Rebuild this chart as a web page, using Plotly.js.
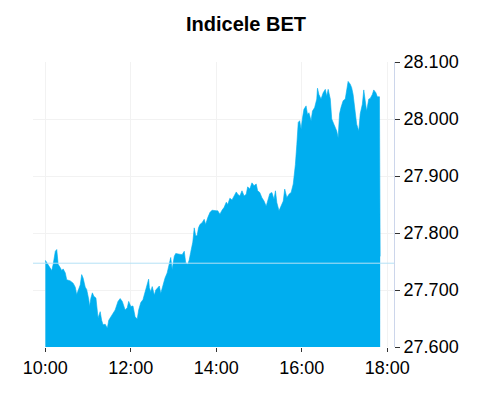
<!DOCTYPE html>
<html>
<head>
<meta charset="utf-8">
<script src="https://cdn.plot.ly/plotly-3.0.1.min.js"></script>
<style>html,body{margin:0;padding:0;background:#fff;}#chart{width:492px;height:400px;}</style>
</head>
<body>
<div id="chart"></div>
<script>
const chartTitle = "Indicele BET";
const day = "2024-01-01";
const times = ["10:00","10:04","10:09","10:11","10:14","10:16","10:18","10:21","10:23","10:25","10:28","10:30","10:35","10:39","10:42","10:44","10:47","10:49","10:51","10:53","10:56","10:58","11:01","11:02","11:04","11:06","11:08","11:11","11:14","11:17","11:19","11:21","11:24","11:27","11:29","11:32","11:35","11:38","11:42","11:45","11:48","11:52","11:55","11:57","12:00","12:03","12:06","12:09","12:11","12:14","12:17","12:20","12:23","12:25","12:26","12:28","12:30","12:33","12:35","12:38","12:40","12:42","12:45","12:48","12:51","12:54","12:56","12:58","13:01","13:03","13:08","13:12","13:15","13:17","13:20","13:22","13:24","13:27","13:29","13:31","13:33","13:35","13:37","13:40","13:43","13:45","13:48","13:51","13:54","13:57","14:00","14:02","14:05","14:08","14:11","14:14","14:16","14:19","14:22","14:25","14:28","14:30","14:33","14:36","14:39","14:42","14:44","14:47","14:50","14:53","14:56","14:58","15:01","15:04","15:07","15:10","15:13","15:15","15:18","15:21","15:23","15:25","15:28","15:31","15:34","15:36","15:39","15:42","15:45","15:48","15:50","15:51","15:53","15:55","15:57","15:59","16:01","16:03","16:06","16:08","16:10","16:13","16:15","16:18","16:21","16:22","16:24","16:27","16:30","16:33","16:35","16:37","16:40","16:42","16:45","16:49","16:51","16:53","16:55","16:58","17:01","17:03","17:05","17:08","17:10","17:12","17:15","17:17","17:20","17:22","17:25","17:27","17:29","17:31","17:34","17:36","17:39","17:41","17:44","17:46","17:49","17:50"];
const values = [27752,27745,27734,27745,27768,27771,27745,27739,27734,27737,27730,27718,27716,27712,27705,27692,27705,27709,27727,27721,27705,27701,27683,27671,27686,27695,27689,27686,27651,27662,27647,27639,27640,27633,27647,27653,27660,27665,27680,27685,27680,27665,27669,27680,27671,27672,27653,27649,27665,27678,27683,27696,27706,27719,27704,27697,27706,27691,27700,27704,27707,27694,27709,27721,27730,27748,27757,27736,27759,27764,27763,27762,27768,27748,27745,27753,27766,27784,27809,27795,27795,27809,27815,27818,27824,27815,27827,27836,27840,27839,27839,27839,27833,27840,27845,27854,27850,27861,27858,27865,27872,27868,27865,27874,27865,27868,27881,27877,27888,27883,27886,27874,27871,27862,27856,27847,27859,27869,27871,27859,27874,27853,27839,27847,27856,27877,27862,27868,27871,27886,27903,27920,27955,27994,27997,27982,28002,28017,28023,28008,28011,27997,28014,28020,28035,28054,28043,28035,28046,28052,28040,28052,28035,28000,27991,27979,27967,28009,28020,28032,28035,28049,28066,28061,28055,28043,28017,27991,27979,28009,28026,28051,28032,28014,28035,28036,28043,28051,28046,28039,28039,27759];
const prevClose = [27747];
const yTicks = [27600,27700,27800,27900,28000,28100];
const xTickTimes = ["10:00","12:00","14:00","16:00","18:00"];
const xRange = ["09:42:40","18:09:25"];
const yRange = [27600,28100];

const x = times.map(t => day + " " + t);
const font = "Liberation Sans, Arial, sans-serif";

const traces = [{
  type: "scatter",
  mode: "lines",
  x: x,
  y: values,
  fill: "tozeroy",
  fillcolor: "#00AEEF",
  line: {color: "#00AEEF", width: 0.6},
  hoverinfo: "x+y"
}];

const layout = {
  width: 492,
  height: 400,
  margin: {l: 33, r: 98, t: 62, b: 53},
  paper_bgcolor: "#ffffff",
  plot_bgcolor: "#ffffff",
  separators: ",.",
  showlegend: false,
  title: {
    text: chartTitle,
    x: 0.5, xref: "container", xanchor: "center",
    y: 0.94, yref: "container", yanchor: "middle",
    font: {family: font, size: 20, color: "#000", weight: "bold"}
  },
  xaxis: {
    type: "date",
    range: xRange.map(t => day + " " + t),
    tickvals: xTickTimes.map(t => day + " " + t),
    ticktext: xTickTimes,
    showgrid: true, gridcolor: "#f2f2f2", gridwidth: 1,
    showline: false, zeroline: false,
    ticks: "outside", ticklen: 4, tickcolor: "#333",
    tickfont: {family: font, size: 18, color: "#000"},
    fixedrange: true
  },
  yaxis: {
    side: "right",
    range: yRange,
    tickvals: yTicks,
    tickformat: ",.0f",
    showgrid: true, gridcolor: "#f2f2f2", gridwidth: 1,
    showline: true, linecolor: "#ccd6eb", linewidth: 1,
    zeroline: false,
    ticks: "outside", ticklen: 5, tickcolor: "#333",
    tickfont: {family: font, size: 18, color: "#000"},
    fixedrange: true
  },
  shapes: prevClose.map(v => ({
    type: "line", xref: "paper", x0: 0, x1: 1, yref: "y", y0: v, y1: v,
    line: {color: "#b5e1f6", width: 1}, layer: "above"
  }))
};

Plotly.newPlot("chart", traces, layout, {displayModeBar: false, staticPlot: true});
</script>
</body>
</html>
